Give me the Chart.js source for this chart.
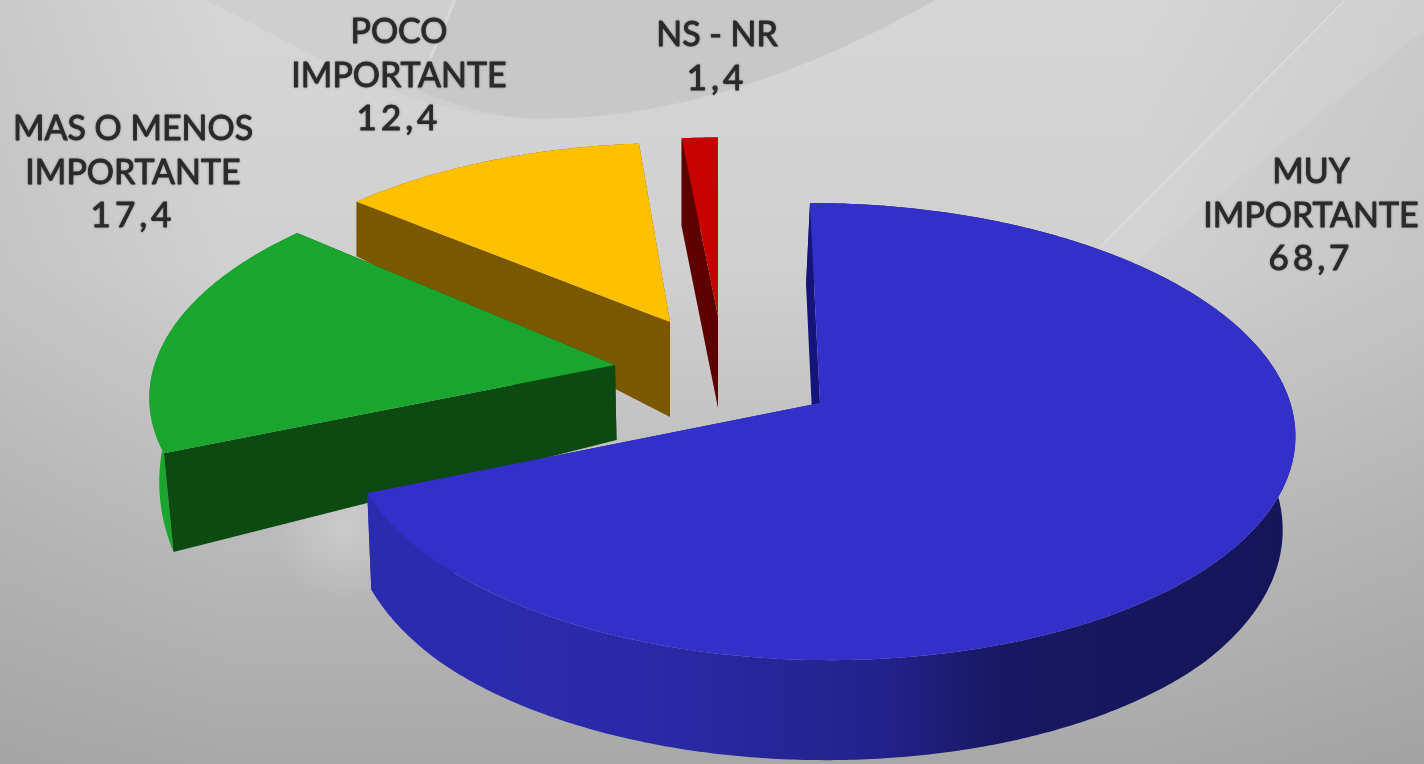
<!DOCTYPE html>
<html><head><meta charset="utf-8">
<style>html,body{margin:0;padding:0;background:#c8c8c8;overflow:hidden}#w{width:1424px;height:764px}</style>
<script src="https://cdn.jsdelivr.net/npm/chart.js@4"></script>
</head><body><div id="w"><canvas id="c" width="1424" height="764"></canvas></div>
<script>
const categories = ['MAS O MENOS\nIMPORTANTE','POCO\nIMPORTANTE','NS - NR','MUY\nIMPORTANTE'];
const values = [17.4, 12.4, 1.4, 68.7];
const valueLabels = ['17,4','12,4','1,4','68,7'];
const topColors = ['#1aa52e','#ffc000','#c80000','#3230c8'];
const cutColors = ['#0c4a12','#7a5800','#5c0000','#14147a'];
const labelPos = [[133,129],[399,32],[717,35],[1311,172]];
const lineGap = 43.5;
// drawing style of each exploded slice: apex on the page, depth and scale
const slice3D = [
 {ax:615,ay:365,vo:-.17,sx:1.005,sy:1,lean:-12,d0:75,ds:.27,dmax:100,dx:.018,vx:700},
 {ax:670,ay:322,vo:-.35,sx:.995,sy:.93,lean:-4,d0:95,ds:.336,dmax:100,dx:0,vx:700},
 {ax:718,ay:316,vo:-.43,sx:1.04,sy:.935,lean:0,d0:92,ds:.02,dmax:100,dx:0,vx:700},
 {ax:820,ay:403,vo:0,sx:1.005,sy:1,lean:10,d0:92,ds:.05,dmax:100,dx:.018,vx:590}
];
const P=.125,A=225,B=468;
function top3(s,u,v){const f=1/(1-P*(v+s.vo));return [s.ax+(B*u*f)*s.sx+s.lean*v,s.ay+(A*v*f)*s.sy];}
function low3(s,pt){let d=Math.min(s.dmax,s.d0+s.ds*(pt[1]-s.ay));return [pt[0]-(pt[0]-s.vx)*s.dx,pt[1]+d];}
function poly(ctx,pts,fill){ctx.beginPath();pts.forEach((p,i)=>i?ctx.lineTo(p[0],p[1]):ctx.moveTo(p[0],p[1]));ctx.closePath();ctx.fillStyle=fill;ctx.fill();}

function drawSolid(el,ctx,i){
  const s=slice3D[i];
  const a0=el.startAngle,a1=el.endAngle,n=Math.max(4,Math.ceil((a1-a0)/0.01));
  const rim=[];for(let k=0;k<=n;k++){const a=a0+(a1-a0)*k/n;rim.push(top3(s,Math.cos(a),Math.sin(a)));}
  const apex=top3(s,0,0),apexL=low3(s,apex);
  const rimL=rim.map(p=>low3(s,p));
  ctx.save();
  let sideFill=el.options.backgroundColor;
  if(i===3){const g=ctx.createLinearGradient(370,0,1298,0);g.addColorStop(0,'#2b2bb0');g.addColorStop(.3,'#2a2aa8');g.addColorStop(.55,'#22228c');g.addColorStop(.68,'#181862');g.addColorStop(1,'#15155a');sideFill=g;}
  else if(i===1){sideFill=cutColors[1];} else if(i===2){sideFill=cutColors[2];}
  poly(ctx,rim.concat(rimL.slice().reverse()),sideFill);
  poly(ctx,[apex,rim[0],rimL[0],apexL],cutColors[i]);
  poly(ctx,[apex,rim[n],rimL[n],apexL],i===3?'#2b2bb0':cutColors[i]);
  poly(ctx,[apex].concat(rim),el.options.backgroundColor);
  ctx.restore();
}
// the pie's arcs keep the angles the library computes, drawn as solid slices;
// the green slice sits in front of the yellow one, so it waits for it
let waiting=null;
Chart.ArcElement.prototype.draw=function(ctx){
  const i=this.$context?this.$context.dataIndex:0;
  if(i===0){waiting=this;return;}
  drawSolid(this,ctx,i);
  if(i===1&&waiting){drawSolid(waiting,ctx,0);waiting=null;}
};

const backdrop={id:'backdrop',beforeDraw(ch){
  const c=ch.ctx,W=1424,H=764;c.save();
  let g=c.createLinearGradient(0,0,0,H);
  g.addColorStop(0,'#d6d6d6');g.addColorStop(.35,'#d0d0d0');g.addColorStop(.7,'#bababa');g.addColorStop(1,'#a8a8a8');
  c.fillStyle=g;c.fillRect(0,0,W,H);
  g=c.createLinearGradient(0,0,W,0);g.addColorStop(0,'rgba(150,150,150,.2)');g.addColorStop(.16,'rgba(150,150,150,0)');g.addColorStop(.8,'rgba(120,120,120,0)');g.addColorStop(1,'rgba(120,120,120,.12)');
  c.fillStyle=g;c.fillRect(0,0,W,H);
  // lens at the top
  c.beginPath();c.moveTo(205,0);c.bezierCurveTo(300,45,390,110,520,118);c.bezierCurveTo(680,125,830,60,935,0);c.closePath();
  c.fillStyle='#cfcfcf';c.fill();
  c.beginPath();c.moveTo(455,0);c.bezierCurveTo(440,35,428,70,414,88);c.bezierCurveTo(450,105,490,114,520,118);c.bezierCurveTo(680,125,830,60,935,0);c.closePath();
  c.fillStyle='#c8c8c8';c.fill();
  c.strokeStyle='rgba(255,255,255,.25)';c.lineWidth=3;c.beginPath();c.moveTo(455,0);c.bezierCurveTo(440,35,428,70,414,88);c.stroke();
  // streaks on the right
  c.fillStyle='rgba(255,255,255,.08)';
  c.beginPath();c.moveTo(1100,247);c.lineTo(1345,0);c.lineTo(1424,0);c.lineTo(1424,30);c.lineTo(1135,262);c.closePath();c.fill();
  c.strokeStyle='rgba(255,255,255,.25)';c.lineWidth=1.5;c.beginPath();c.moveTo(1100,247);c.lineTo(1345,0);c.stroke();
  // glow lower left
  g=c.createRadialGradient(345,530,5,345,530,75);g.addColorStop(0,'rgba(255,255,255,.22)');g.addColorStop(1,'rgba(255,255,255,0)');
  c.fillStyle=g;c.fillRect(250,440,200,180);
  c.restore();
}};
const labelsPlugin={id:'labels3d',afterDraw(ch){
  const c=ch.ctx;c.save();c.textAlign='center';c.textBaseline='middle';c.font='400 35px Lato';
  c.fillStyle='#2b2b2b';c.strokeStyle='#2b2b2b';c.lineWidth=.9;c.lineJoin='round';c.shadowColor='rgba(40,40,40,.4)';c.shadowBlur=2;
  ch.data.labels.forEach((lab,i)=>{
    const lines=lab.split('\n').concat(valueLabels[i]);
    lines.forEach((t,k)=>{
      const isValue=k===lines.length-1;
      c.letterSpacing=isValue?'4px':'0px';
      const x=labelPos[i][0],y=labelPos[i][1]+k*lineGap;
      c.save();c.translate(x,y);c.scale(isValue?1:.97,1);c.fillText(t,0,0);c.strokeText(t,0,0);c.restore();
    });
  });
  c.restore();
}};
new Chart(document.getElementById('c'),{
  type:'pie',
  data:{labels:categories,datasets:[{data:values,backgroundColor:topColors,borderWidth:0}]},
  options:{responsive:false,animation:false,rotation:values[3]/values.reduce((a,b)=>a+b,0)*360,
    events:[],plugins:{legend:{display:false},tooltip:{enabled:false}}},
  plugins:[backdrop,labelsPlugin]
});
</script></body></html>
